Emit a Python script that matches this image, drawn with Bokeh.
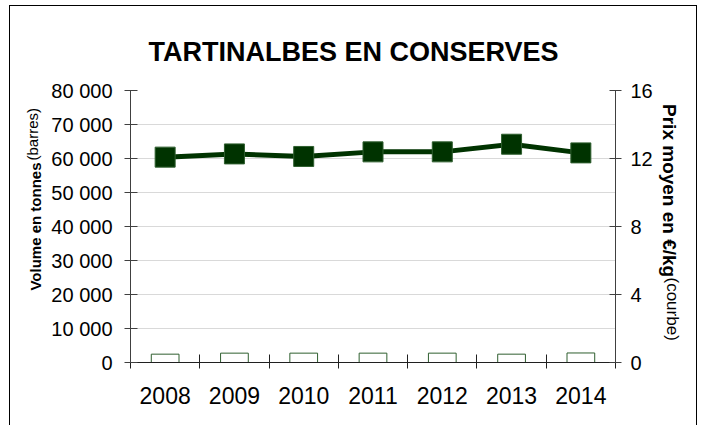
from bokeh.plotting import figure
from bokeh.models import (Range1d, LinearAxis, FixedTicker, Title, ColumnDataSource,
                          CustomJSTickFormatter)
from bokeh.embed import file_html
from bokeh.resources import INLINE

# ---- data ----
years = ["2008", "2009", "2010", "2011", "2012", "2013", "2014"]
volumes = [2450, 2750, 2750, 2750, 2750, 2450, 2800]          # tonnes (bars)
prices = [12.08, 12.27, 12.12, 12.39, 12.39, 12.84, 12.33]    # EUR/kg (line)
vol_ticks = [0, 10000, 20000, 30000, 40000, 50000, 60000, 70000, 80000]
vol_tick_labels = ["0", "10 000", "20 000", "30 000", "40 000", "50 000", "60 000", "70 000", "80 000"]
price_ticks = [0, 4, 8, 12, 16]
title_text = "TARTINALBES EN CONSERVES"
left_label_bold = "Volume en tonnes"
left_label_norm = "(barres)"
right_label_bold = "Prix moyen en  €/kg"
right_label_norm = "(courbe)"

FONT = "Liberation Sans"
DARK = "#003300"
BAR_LINE = "#2f5f2f"

n = len(years)
xc = [i + 0.5 for i in range(n)]
src = ColumnDataSource(dict(x=xc, vol=volumes, price=prices, year=years))

p = figure(width=688, height=420, output_backend="svg", toolbar_location=None,
           x_range=Range1d(0, n), y_range=Range1d(0, 80000),
           min_border_left=120, min_border_right=83, min_border_top=84, min_border_bottom=64,
           styles={"border-left": "1px solid black", "border-top": "1px solid black",
                   "border-right": "1px solid black", "margin-left": "9px", "margin-top": "5px"})
p.extra_y_ranges = {"price": Range1d(0, 16)}
p.outline_line_color = None
p.background_fill_color = "white"
p.border_fill_color = "white"

# title
p.title.text = title_text
p.title.align = "left"
p.title.offset = 18
p.title.vertical_align = "bottom"
p.title.standoff = 48
p.title.text_font = FONT
p.title.text_font_size = "27px"
p.title.text_font_style = "bold"
p.title.text_color = "black"

# axes
p.xaxis.ticker = FixedTicker(ticks=xc, minor_ticks=list(range(n + 1)))
p.xaxis.formatter = CustomJSTickFormatter(args=dict(labels=years),
                                          code="return labels[Math.floor(tick)];")
p.xaxis.major_tick_line_color = None
p.xaxis.major_tick_in = 0
p.xaxis.major_tick_out = 0
p.xaxis.minor_tick_in = 8
p.xaxis.minor_tick_out = 6
p.xaxis.minor_tick_line_color = "#202020"
p.xaxis.axis_line_color = "#202020"
p.xaxis.major_label_standoff = 18
p.xaxis.major_label_text_font = FONT
p.xaxis.major_label_text_font_size = "23px"
p.xaxis.major_label_text_color = "black"

p.yaxis.ticker = FixedTicker(ticks=vol_ticks)
p.yaxis.major_label_overrides = {t: s for t, s in zip(vol_ticks, vol_tick_labels)}
p.yaxis.minor_tick_line_color = None
p.yaxis.major_tick_in = 7
p.yaxis.major_tick_out = 6
p.yaxis.axis_line_color = "#404040"
p.yaxis.major_tick_line_color = "#404040"
p.yaxis.major_label_standoff = 12
p.yaxis.major_label_text_font = FONT
p.yaxis.major_label_text_font_size = "20px"
p.yaxis.major_label_text_color = "black"

ra = LinearAxis(y_range_name="price", ticker=FixedTicker(ticks=price_ticks))
ra.minor_tick_line_color = None
ra.major_tick_in = 6
ra.major_tick_out = 6
ra.axis_line_color = "#404040"
ra.major_tick_line_color = "#404040"
ra.major_label_standoff = 9
ra.major_label_text_font = FONT
ra.major_label_text_font_size = "20px"
ra.major_label_text_color = "black"
p.add_layout(ra, "right")

p.xgrid.visible = False
p.ygrid.grid_line_color = "#d9d9d9"
p.ygrid.grid_line_width = 1

# glyphs
p.vbar(x="x", top="vol", width=0.4, bottom=0, source=src,
       fill_color="white", line_color=BAR_LINE, line_width=1)
p.line(x="x", y="price", source=src, y_range_name="price",
       line_color=DARK, line_width=5)
p.scatter(x="x", y="price", source=src, y_range_name="price", marker="square",
          size=20, fill_color=DARK, line_color="#2f5f2f", line_width=1)

# axis titles (two parts each: bold + normal)
def side_title(text, side, size, style, align, offset, standoff):
    t = Title(text=text, align=align, offset=offset, vertical_align="bottom",
              standoff=standoff, text_font=FONT, text_font_size=size,
              text_font_style=style, text_color="black")
    p.add_layout(t, side)

side_title(left_label_bold, "left", "15px", "bold", "right", 72, 9)
side_title(left_label_norm, "left", "15px", "normal", "left", 202, -41)
side_title(right_label_bold, "right", "19px", "bold", "right", 80, 7)
side_title(right_label_norm, "right", "17px", "normal", "left", 187, -46)

open("out.html", "w").write(file_html(p, INLINE))
